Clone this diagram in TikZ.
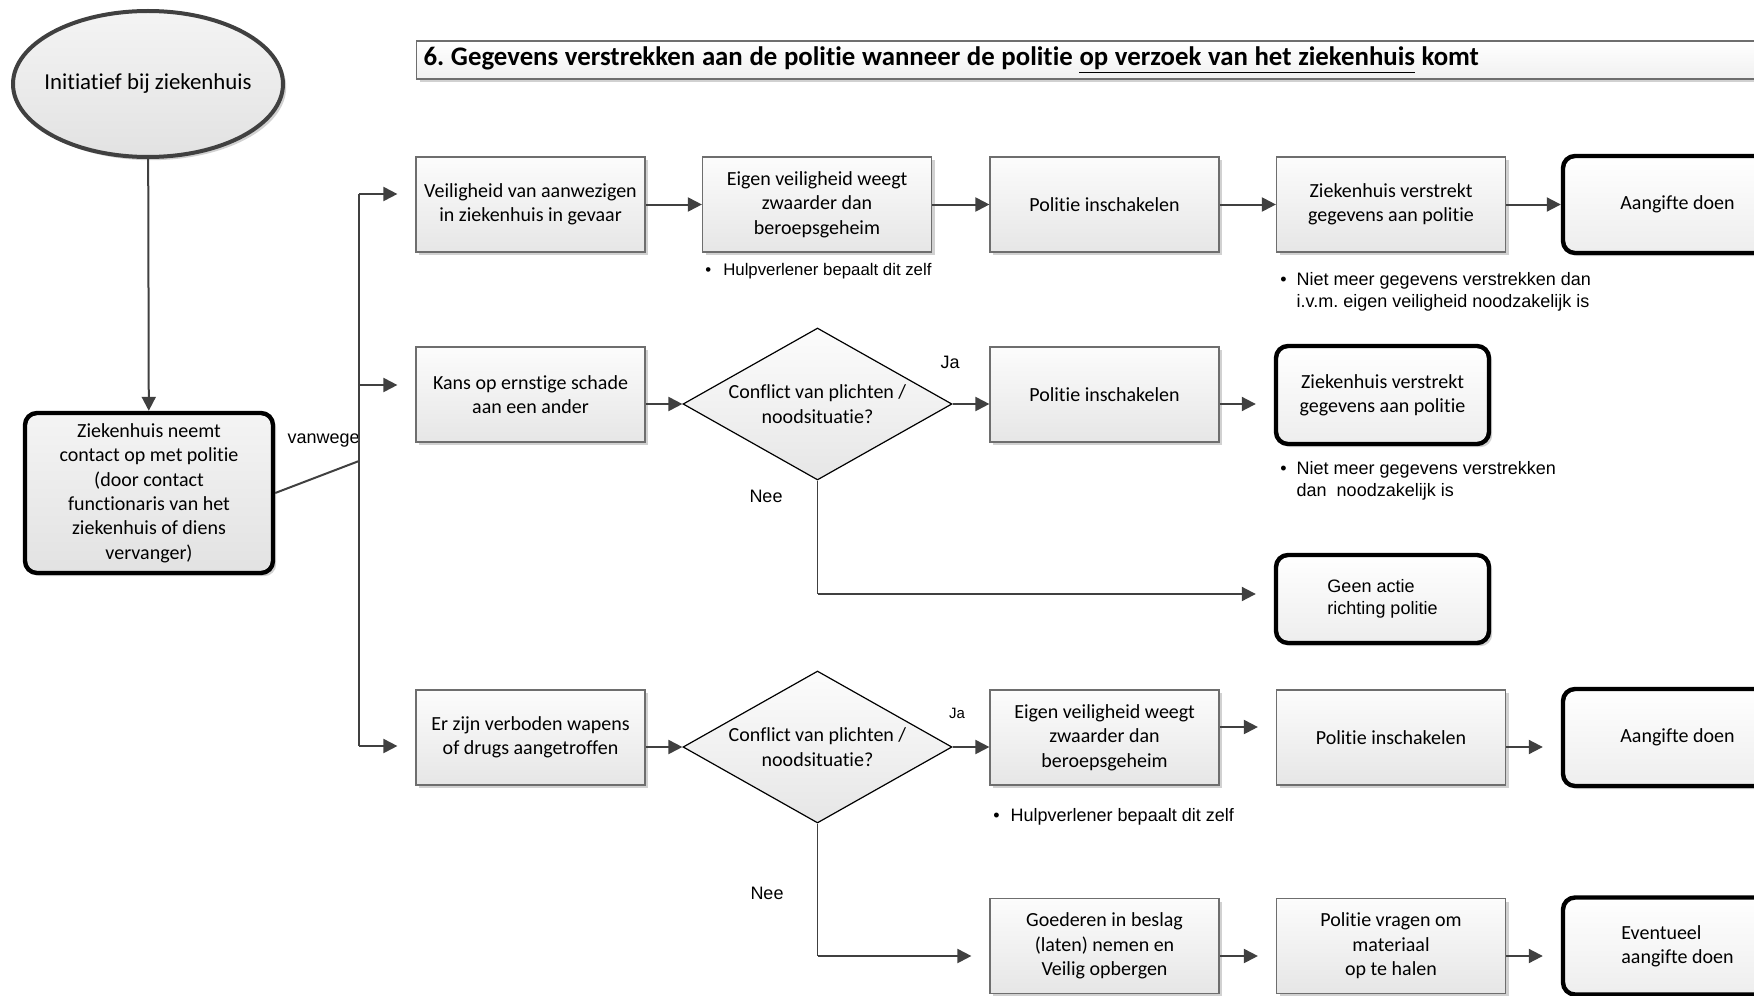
\documentclass[tikz,border=0pt]{standalone}
\usepackage{fontspec}
\setmainfont{Carlito}[Ligatures=NoCommon]
\newfontfamily\arialf{Liberation Sans}
\usetikzlibrary{shapes.geometric,arrows.meta,shadows}
\frenchspacing

\definecolor{linegray}{HTML}{404040}
\definecolor{edgegray}{HTML}{6E6E6E}
\definecolor{shadeTop}{HTML}{FCFCFC}
\definecolor{shadeBot}{HTML}{E6E6E6}
\definecolor{greyTop}{HTML}{F4F4F4}
\definecolor{greyBot}{HTML}{E2E2E2}

\begin{document}
\begin{tikzpicture}[x=0.5pt,y=-0.5pt,
  every node/.style={font=\fontsize{10}{12.2}\selectfont,align=center,inner sep=0pt},
  softshadow/.style={drop shadow={shadow xshift=1.6pt,shadow yshift=-1.6pt,opacity=0.18,fill=black}},
  procbox/.style={rectangle,draw=edgegray,line width=0.6pt,top color=shadeTop,bottom color=shadeBot,
    minimum width=114.5pt,minimum height=47.5pt,softshadow},
  endbox/.style={rectangle,rounded corners=6pt,draw=black,line width=2.2pt,top color=white,bottom color=shadeBot!70,
    minimum width=114.5pt,minimum height=48pt,softshadow},
  decision/.style={diamond,aspect=1.77,draw=black,line width=0.6pt,top color=shadeTop,bottom color=shadeBot,
    minimum width=134.5pt,minimum height=76pt},
  titlebox/.style={rectangle,draw=edgegray,line width=0.6pt,top color=white,bottom color=shadeBot!60,
    align=left,softshadow},
  tag/.style={font=\arialf\fontsize{9}{11}\selectfont},
  smalltag/.style={font=\arialf\fontsize{7.5}{9}\selectfont},
  plain/.style={draw=linegray,line width=1pt},
  thinline/.style={draw=linegray,line width=0.7pt},
  conn/.style={draw=linegray,line width=1pt,-{Triangle[length=7pt,width=7pt]}},
  shortgap/.style={shorten >=9pt},
]
\useasboundingbox (0,0) rectangle (1754,995);
\begin{scope}
\clip (0,0) rectangle (1754,995);

% title bar
\node[titlebox,anchor=west,text width=690pt,inner xsep=3.5pt,minimum height=19pt] (title) at (416,60)
  {\fontsize{13.4}{15}\selectfont\bfseries 6. Gegevens verstrekken aan de politie wanneer de politie \underline{op verzoek van het ziekenhuis} komt};

% start of the flow (label kept zero-width so the ellipse keeps its set size)
\node[ellipse,draw=linegray,line width=2pt,top color=greyTop,bottom color=greyBot,
  minimum width=135pt,minimum height=73pt,softshadow,font=\fontsize{11.4}{13}\selectfont] (init) at (148,84)
  {\makebox[0pt]{Initiatief bij ziekenhuis}};
\node[endbox,top color=greyTop,bottom color=greyBot,minimum width=124pt,minimum height=80pt] (start) at (149,493)
  {Ziekenhuis neemt\\contact op met politie\\(door contact\\functionaris van het\\ziekenhuis of diens\\vervanger)};

% row 1
\node[procbox] (a1) at (530.5,204.5) {Veiligheid van aanwezigen\\in ziekenhuis in gevaar};
\node[procbox] (a2) at (817,204.5) {Eigen veiligheid weegt\\zwaarder dan\\beroepsgeheim};
\node[procbox] (a3) at (1104.5,204.5) {Politie inschakelen};
\node[procbox] (a4) at (1391,204.5) {Ziekenhuis verstrekt\\gegevens aan politie};
\node[endbox,minimum height=48.5pt] (a5) at (1677.5,204.5) {Aangifte doen};

% row 2
\node[procbox] (b1) at (530.5,394.5) {Kans op ernstige schade\\aan een ander};
\node[decision] (b2) at (817.5,404) {Conflict van plichten /\\noodsituatie?};
\node[procbox] (b3) at (1104.5,394.5) {Politie inschakelen};
\node[endbox,minimum width=106.5pt,minimum height=49pt] (b4) at (1382.5,395) {Ziekenhuis verstrekt\\gegevens aan politie};
\node[endbox,minimum width=106.5pt,minimum height=44pt,align=left,font=\arialf\fontsize{9}{11}\selectfont] (b5) at (1382.5,599)
  {Geen actie\\richting politie};

% row 3
\node[procbox] (c1) at (530.5,737.5) {Er zijn verboden wapens\\of drugs aangetroffen};
\node[decision] (c2) at (817.5,747) {Conflict van plichten /\\noodsituatie?};
\node[procbox] (c3) at (1104.5,737.5) {Eigen veiligheid weegt\\zwaarder dan\\beroepsgeheim};
\node[procbox] (c4) at (1391,737.5) {Politie inschakelen};
\node[endbox,minimum height=48.5pt] (c5) at (1677.5,737.5) {Aangifte doen};

% row 4
\node[procbox] (d1) at (1104.5,946) {Goederen in beslag\\(laten) nemen en\\Veilig opbergen};
\node[procbox] (d2) at (1391,946) {Politie vragen om\\materiaal\\op te halen};
\node[endbox,minimum height=48.5pt,align=left] (d3) at (1677.5,946) {Eventueel\\aangifte doen};

% labels
\node[tag,anchor=east] (vanwege) at (360,441) {vanwege};
\node[tag] (ja1) at (950,362) {Ja};
\node[tag] (nee1) at (766,496) {Nee};
\node[smalltag] (ja2) at (957,713) {Ja};
\node[tag] (nee2) at (767,893) {Nee};

% notes
\node[font=\arialf\fontsize{8.4}{10}\selectfont,anchor=west] (note1) at (705,271)
  {•\hspace{6pt}Hulpverlener bepaalt dit zelf};
\node[tag,anchor=west] (note2) at (1280,292)
  {\begin{tabular}{@{}l@{\hspace{5pt}}l@{}}•&Niet meer gegevens verstrekken dan\\&i.v.m. eigen veiligheid noodzakelijk is\end{tabular}};
\node[tag,anchor=west] (note3) at (1280,481)
  {\begin{tabular}{@{}l@{\hspace{5pt}}l@{}}•&Niet meer gegevens verstrekken\\&dan\ \ noodzakelijk is\end{tabular}};
\node[tag,anchor=west] (note4) at (993,817) {•\hspace{5.5pt}Hulpverlener bepaalt dit zelf};

% trunk with branches
\coordinate (t1) at (359,194);
\coordinate (t2) at (359,385);
\coordinate (t3) at (359,746);
\coordinate (tj) at (359,461);
\draw[conn] (init) -- (start);
\draw[plain] (start.east) -- (tj);
\draw[plain] (t1) -- (t3);
\draw[conn,shortgap] (t1) -- (t1 -| a1.west);
\draw[conn,shortgap] (t2) -- (t2 -| b1.west);
\draw[conn,shortgap] (t3) -- (t3 -| c1.west);

% row 1 connectors
\draw[conn] (a1) -- (a2);
\draw[conn] (a2) -- (a3);
\draw[conn] (a3) -- (a4);
\draw[conn] (a4) -- (a5);

% row 2 connectors
\draw[conn] (b2.west -| b1.east) -- (b2.west);
\draw[conn] (b2.east) -- (b2.east -| b3.west);
\draw[conn,shortgap] (b2.east -| b3.east) -- (b2.east -| b4.west);
\draw[thinline] (b2.south) -- ([yshift=2.5pt]b2.south |- b5.west);
\draw[conn,shortgap] ([yshift=2.5pt]b2.south |- b5.west) -- ([yshift=2.5pt]b5.west);

% row 3 connectors
\draw[conn] (c2.west -| c1.east) -- (c2.west);
\draw[conn] (c2.east) -- (c2.east -| c3.west);
\draw[conn,shortgap] ([yshift=5.25pt]c3.east) -- ([yshift=5.25pt]c4.west);
\draw[conn,shortgap] (c2.east -| c4.east) -- (c2.east -| c5.west);

% row 4 connectors
\draw[thinline] (c2.south) -- ([yshift=-5pt]c2.south |- d1.west);
\draw[conn,shortgap] ([yshift=-5pt]c2.south |- d1.west) -- ([yshift=-5pt]d1.west);
\draw[conn,shortgap] ([yshift=-5pt]d1.east) -- ([yshift=-5pt]d2.west);
\draw[conn,shortgap] ([yshift=-5pt]d2.east) -- ([yshift=-5pt]d3.west);
\end{scope}
\end{tikzpicture}
\end{document}
